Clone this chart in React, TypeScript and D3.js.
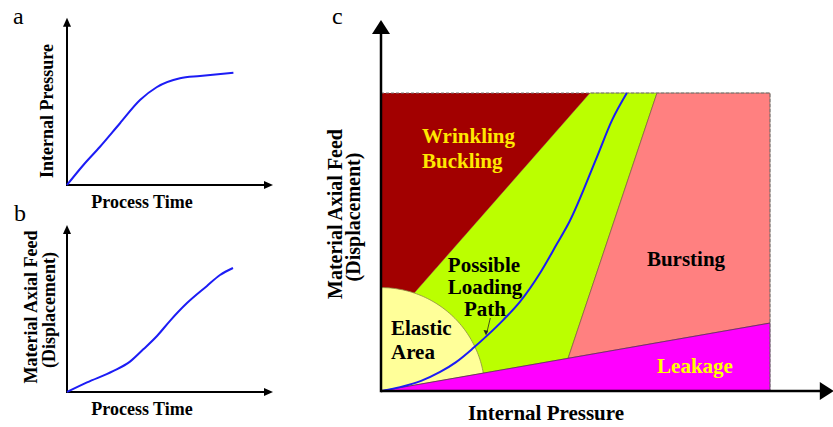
import React from "react";
import * as d3 from "d3";

// Panel a: internal pressure vs process time
const timeA = [0, 0.82, 1.65, 2.65, 3.65, 4.48, 5.65, 6.65, 8.32];
const pressureA = [0, 1.25, 2.39, 3.86, 5.31, 6.11, 6.67, 6.81, 7.02];

// Panel b: material axial feed vs process time
const timeB = [0, 1.0, 2.3, 3.15, 3.8, 4.5, 5.15, 6.0, 7.0, 7.65, 8.3];
const feedB = [0, 0.6, 1.3, 1.9, 2.65, 3.5, 4.45, 5.56, 6.63, 7.31, 7.75];

// Panel c: loading path (internal pressure, axial feed)
const pathPressure = [0, 0.49, 1.03, 1.52, 1.93, 2.37, 2.72, 3.14, 3.57, 4.09, 4.52, 4.84, 5.55, 5.94, 6.32];
const pathFeed = [0, 0.13, 0.34, 0.64, 0.97, 1.44, 1.85, 2.38, 2.99, 3.96, 4.93, 5.67, 7.85, 9.09, 10.0];

// Panel c: region boundaries (data units, window 0..10 x 0..10)
const wrinklingX = [0, 0, 5.37];
const wrinklingY = [10, 2.02, 10];
const loadingX = [0, 0, 5.37, 7.095, 4.81];
const loadingY = [0, 2.02, 10, 10, 1.097];
const burstingX = [7.095, 10, 10, 4.81];
const burstingY = [10, 10, 2.28, 1.097];
const leakageX = [0, 10, 10];
const leakageY = [0, 2.28, 0];
const elasticRadius = [2.67, 3.47];

const FONT = "'Liberation Serif', 'Times New Roman', serif";

function pts(xs: number[], ys: number[]) {
  return xs.map((x, i) => [x, ys[i]] as [number, number]);
}

function ArrowAxes({ x, y, xEnd, yEnd, w, headL, headW }: any) {
  const ox = x(0), oy = y(0);
  const xe = x(xEnd), ye = y(yEnd);
  return (
    <g>
      <line x1={ox} y1={oy} x2={xe - headL + 1} y2={oy} stroke="#000" strokeWidth={w} />
      <line x1={ox} y1={oy + w / 2} x2={ox} y2={ye + headL - 1} stroke="#000" strokeWidth={w} />
      <path d={`M${xe},${oy} L${xe - headL},${oy - headW} L${xe - headL},${oy + headW} Z`} fill="#000" />
      <path d={`M${ox},${ye} L${ox - headW},${ye + headL} L${ox + headW},${ye + headL} Z`} fill="#000" />
    </g>
  );
}

export default function App() {
  // Panel a scales
  const xA = d3.scaleLinear().domain([0, 10]).range([67, 267]);
  const yA = d3.scaleLinear().domain([0, 10]).range([185, 25]);
  // Panel b scales
  const xB = d3.scaleLinear().domain([0, 10]).range([67, 267]);
  const yB = d3.scaleLinear().domain([0, 10]).range([392, 232]);
  // Panel c scales
  const xC = d3.scaleLinear().domain([0, 10]).range([381, 770]);
  const yC = d3.scaleLinear().domain([0, 10]).range([391, 93]);

  const lineA = d3.line<[number, number]>().x(d => xA(d[0])).y(d => yA(d[1])).curve(d3.curveMonotoneX);
  const lineB = d3.line<[number, number]>().x(d => xB(d[0])).y(d => yB(d[1])).curve(d3.curveMonotoneX);
  const lineC = d3.line<[number, number]>().x(d => xC(d[0])).y(d => yC(d[1])).curve(d3.curveMonotoneX);
  const poly = d3.line<[number, number]>().x(d => xC(d[0])).y(d => yC(d[1]));

  // elastic area: quarter ellipse bounded by the leakage line
  const slope = leakageY[1] / leakageX[1];
  const [rx, ry] = elasticRadius;
  const theta0 = Math.atan((slope * rx) / ry);
  const elasticPts: [number, number][] = [[0, 0]];
  d3.range(theta0, Math.PI / 2 + 1e-9, (Math.PI / 2 - theta0) / 60).forEach(t => {
    elasticPts.push([rx * Math.cos(t), ry * Math.sin(t)]);
  });
  elasticPts.push([0, ry]);

  const blue = "#1c1cf5";
  const bold = { fontFamily: FONT, fontWeight: 700 } as any;

  return (
    <svg width={833} height={427} style={{ position: "absolute", left: 0, top: 0, background: "#fff" }}>
      {/* Panel a */}
      <text x={13} y={24} fontFamily={FONT} fontSize={24}>a</text>
      <ArrowAxes x={xA} y={yA} xEnd={10.3} yEnd={10.45} w={2} headL={9} headW={4} />
      <path d={lineA(pts(timeA, pressureA)) || ""} fill="none" stroke={blue} strokeWidth={2} />
      <text {...bold} fontSize={18} textAnchor="middle" transform="translate(53,111) rotate(-90)">Internal Pressure</text>
      <text {...bold} fontSize={18} textAnchor="middle" x={142} y={208}>Process Time</text>

      {/* Panel b */}
      <text x={14} y={221} fontFamily={FONT} fontSize={24}>b</text>
      <ArrowAxes x={xB} y={yB} xEnd={10.3} yEnd={10.44} w={2} headL={9} headW={4} />
      <path d={lineB(pts(timeB, feedB)) || ""} fill="none" stroke={blue} strokeWidth={2} />
      <text {...bold} fontSize={18} textAnchor="middle" transform="translate(37,307) rotate(-90)">Material Axial Feed</text>
      <text {...bold} fontSize={18} textAnchor="middle" transform="translate(55,310) rotate(-90)">(Displacement)</text>
      <text {...bold} fontSize={18} textAnchor="middle" x={142} y={415}>Process Time</text>

      {/* Panel c */}
      <text x={332} y={24} fontFamily={FONT} fontSize={24}>c</text>
      <path d={(poly(pts(loadingX, loadingY)) || "") + "Z"} fill="#bbff00" stroke="#6b7a2a" strokeWidth={0.6} />
      <path d={(poly(pts(wrinklingX, wrinklingY)) || "") + "Z"} fill="#a20000" />
      <path d={(poly(pts(burstingX, burstingY)) || "") + "Z"} fill="#ff8080" stroke="#6b4a3a" strokeWidth={0.6} />
      <path d={(poly(elasticPts) || "") + "Z"} fill="#ffff99" stroke="#8a8a40" strokeWidth={0.8} />
      <path d={(poly(pts(leakageX, leakageY)) || "") + "Z"} fill="#ff00ff" stroke="#5a2a5a" strokeWidth={0.8} />
      {/* dashed window border */}
      <path d={`M${xC(0)},${yC(10)} L${xC(10)},${yC(10)} L${xC(10)},${yC(0)}`} fill="none" stroke="#7a7a7a" strokeWidth={1} strokeDasharray="3,2" />
      <path d={lineC(pts(pathPressure, pathFeed)) || ""} fill="none" stroke={blue} strokeWidth={2} />
      {/* pointer from label to path */}
      <line x1={xC(2.81)} y1={yC(2.45)} x2={xC(2.72)} y2={yC(1.95)} stroke="#222" strokeWidth={0.8} />
      <path d={`M${xC(2.70)},${yC(1.86)} l-2.5,-5.5 l4.5,0.8 Z`} fill="#222" />
      <ArrowAxes x={xC} y={yC} xEnd={11.64} yEnd={12.45} w={2.5} headL={14} headW={9} />

      <text {...bold} fontSize={21} fill="#ffe800" x={422} y={143}>Wrinkling</text>
      <text {...bold} fontSize={21} fill="#ffe800" x={422} y={168}>Buckling</text>
      <text {...bold} fontSize={21} fill="#000" textAnchor="middle" x={484} y={272}>Possible</text>
      <text {...bold} fontSize={21} fill="#000" textAnchor="middle" x={485} y={294}>Loading</text>
      <text {...bold} fontSize={21} fill="#000" textAnchor="middle" x={485} y={316}>Path</text>
      <text {...bold} fontSize={21} fill="#000" x={391} y={335}>Elastic</text>
      <text {...bold} fontSize={21} fill="#000" x={391} y={359}>Area</text>
      <text {...bold} fontSize={21} fill="#000" textAnchor="middle" x={686} y={266}>Bursting</text>
      <text {...bold} fontSize={21} fill="#ffff00" textAnchor="middle" x={695} y={373}>Leakage</text>

      <text {...bold} fontSize={20} textAnchor="middle" transform="translate(342,214) rotate(-90)">Material Axial Feed</text>
      <text {...bold} fontSize={20} textAnchor="middle" transform="translate(360,217) rotate(-90)">(Displacement)</text>
      <text {...bold} fontSize={21} textAnchor="middle" x={546} y={420}>Internal Pressure</text>
    </svg>
  );
}
